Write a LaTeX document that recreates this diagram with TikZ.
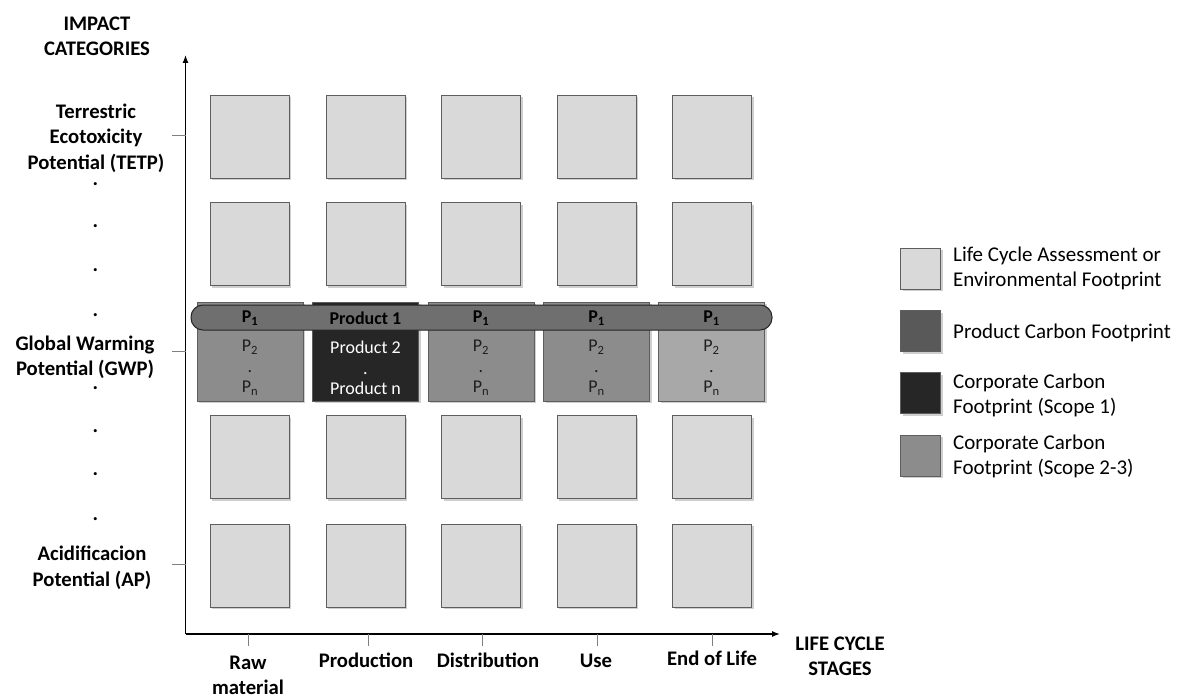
\documentclass[tikz,border=0pt]{standalone}
\usepackage{fontspec}
\setmainfont{Carlito}
\usetikzlibrary{arrows.meta,shadows}
\definecolor{lca}{HTML}{D9D9D9}
\definecolor{pcf}{HTML}{595959}
\definecolor{ccfone}{HTML}{262626}
\definecolor{ccftwo}{HTML}{8C8C8C}
\definecolor{ccflight}{HTML}{A8A8A8}
\definecolor{barfill}{HTML}{6F6F6F}
\definecolor{edge}{HTML}{5E5E5E}
\definecolor{shadowgray}{HTML}{CFCFCF}
\definecolor{tickgray}{HTML}{7F7F7F}
\definecolor{boxtext}{HTML}{1E1E1E}
\begin{document}
\begin{tikzpicture}[x=1pt,y=-1pt,
  shad/.style={drop shadow={shadow xshift=2pt,shadow yshift=-2pt,fill=shadowgray,opacity=1}},
  basebox/.style={draw=edge,line width=0.9pt,inner sep=0pt,shad},
  lcabox/.style={basebox,fill=lca,minimum width=79pt,minimum height=83pt},
  gbox/.style={basebox,minimum width=106pt,minimum height=99pt},
  legbox/.style={basebox,minimum width=40pt,minimum height=41pt},
  bar/.style={draw=ccfone,line width=1pt,fill=barfill,rounded corners=12pt,minimum width=581pt,minimum height=25pt,inner sep=0pt},
  axislbl/.style={font=\bfseries\fontsize{20.7}{25.5}\selectfont,align=center,inner sep=0pt,text=black},
  legtxt/.style={font=\fontsize{21}{25}\selectfont,align=left,anchor=west,inner sep=0pt,text=black},
  btxt/.style={font=\bfseries\fontsize{18}{20.5}\selectfont,inner sep=0pt,text=black},
  ltxt/.style={font=\fontsize{18}{20.5}\selectfont,align=center,inner sep=0pt,text=boxtext},
  ydot/.style={font=\bfseries\fontsize{20.7}{25}\selectfont,anchor=base,inner sep=0pt},
  axis/.style={line width=1.3pt,-{Latex[length=8pt,width=6pt]}},
  tick/.style={draw=tickgray,line width=1pt},
  stxt/.style={axislbl,text height=14pt,text depth=4pt}
]
\useasboundingbox (0,0) rectangle (1184,698);

% grid boxes
\foreach \c/\x in {1/249.5,2/365.5,3/481,4/596.5,5/712} {
  \foreach \r/\y in {1/136.5,2/244,4/457,5/565.5} {
    \node[lcabox] (b\r\c) at (\x,\y) {};
  }
}

% GWP row
\node[gbox,fill=ccftwo] (g1) at (250,351.5) {};
\node[gbox,fill=ccfone] (g2) at (365.5,351.5) {};
\node[gbox,fill=ccftwo] (g3) at (481,351.5) {};
\node[gbox,fill=ccftwo] (g4) at (596.5,351.5) {};
\node[gbox,fill=ccflight] (g5) at (711.5,351.5) {};
\node[bar] (bar) at (481.5,317.5) {};

\node[btxt] (t1) at (250,318) {P\textsubscript{1}};
\node[btxt] (t2) at (365.5,318) {Product 1};
\node[btxt] (t3) at (481,318) {P\textsubscript{1}};
\node[btxt] (t4) at (596.5,318) {P\textsubscript{1}};
\node[btxt] (t5) at (711.5,318) {P\textsubscript{1}};

\node[ltxt] (l1) at (250,368) {P\textsubscript{2}\\.\\P\textsubscript{n}};
\node[ltxt,text=white] (l2) at (365.5,368) {Product 2\\.\\Product n};
\node[ltxt] (l3) at (481,368) {P\textsubscript{2}\\.\\P\textsubscript{n}};
\node[ltxt] (l4) at (596.5,368) {P\textsubscript{2}\\.\\P\textsubscript{n}};
\node[ltxt] (l5) at (711.5,368) {P\textsubscript{2}\\.\\P\textsubscript{n}};

% axes
\coordinate (O) at (185.5,634);
\coordinate (ytop) at (185.5,55);
\coordinate (xend) at (780,634);
\draw[axis] (O) -- (ytop);
\draw[axis] (O) -- (xend);

% y ticks
\foreach \n/\y in {tetp/135.5,gwp/351,ap/564} {
  \coordinate (yt\n a) at (172,\y);
  \coordinate (yt\n b) at (185.5,\y);
  \draw[tick] (yt\n a) -- (yt\n b);
}
% x ticks
\foreach \n/\x in {1/248,2/368,3/482,4/597,5/712} {
  \coordinate (xt\n a) at (\x,634);
  \coordinate (xt\n b) at (\x,646);
  \draw[tick] (xt\n a) -- (xt\n b);
}

% axis labels
\node[axislbl] (impact) at (97,36.5) {IMPACT\\CATEGORIES};
\node[axislbl] (tetp) at (96,138) {Terrestric\\Ecotoxicity\\Potential (TETP)};
\node[axislbl] (gwp) at (85,357.5) {Global Warming\\Potential (GWP)};
\node[axislbl] (ap) at (92,568) {Acidificacion\\Potential (AP)};
\node[axislbl] (lcs) at (840,656.5) {LIFE CYCLE\\STAGES};
\node[axislbl] (raw) at (248,675.5) {Raw\\material};
\node[stxt] (prod) at (366,662) {Production};
\node[stxt] (dist) at (488,662) {Distribution};
\node[stxt] (use) at (596,662) {Use};
\node[stxt] (eol) at (712,660) {End of Life};

% y-axis dots
\foreach \i/\y in {1/184,2/226,3/270,4/315,5/388,6/431,7/474,8/519} {
  \node[ydot] (yd\i) at (95.5,\y+1.5) {.};
}

% legend
\node[legbox,fill=lca] (k1) at (920.5,268.5) {};
\node[legbox,fill=pcf] (k2) at (920.5,331) {};
\node[legbox,fill=ccfone] (k3) at (920.5,393) {};
\node[legbox,fill=ccftwo] (k4) at (920.5,455.5) {};
\node[legtxt] (kt1) at (953,268.5) {Life Cycle Assessment or\\Environmental Footprint};
\node[legtxt] (kt2) at (953,332.5) {Product Carbon Footprint};
\node[legtxt] (kt3) at (953,395.5) {Corporate Carbon\\Footprint (Scope 1)};
\node[legtxt] (kt4) at (953,456.5) {Corporate Carbon\\Footprint (Scope 2-3)};
\end{tikzpicture}
\end{document}
